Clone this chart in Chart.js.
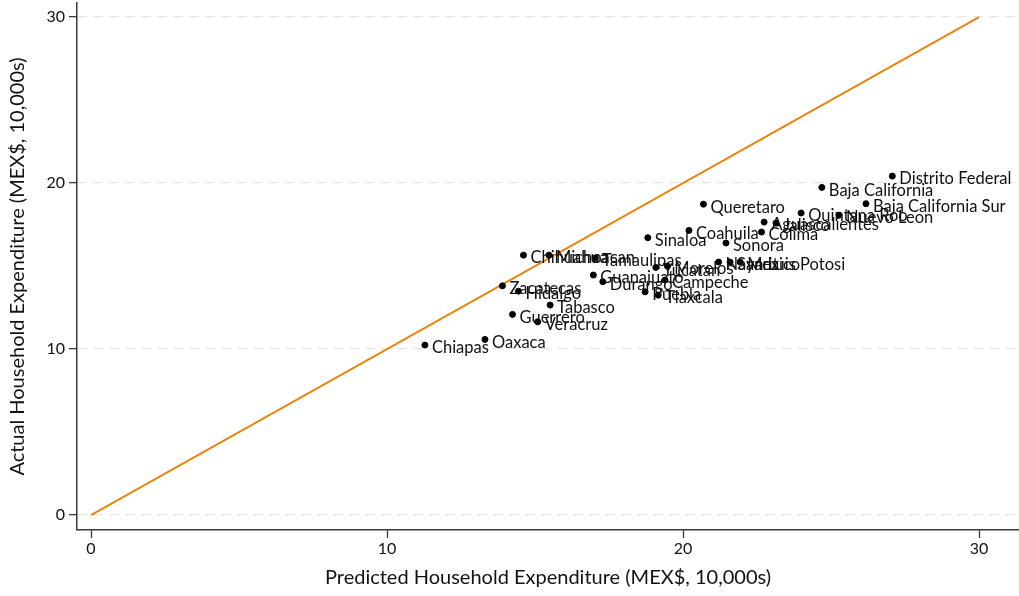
<!DOCTYPE html>
<html>
<head>
<meta charset="utf-8">
<script src="https://cdn.jsdelivr.net/npm/chart.js@4/dist/chart.umd.min.js"></script>
<style>
  html, body { margin: 0; padding: 0; background: #ffffff; }
  #wrap { width: 1019px; height: 596px; }
</style>
</head>
<body>
<div id="wrap"><canvas id="c" width="1019" height="596"></canvas></div>
<script>
// Mexican states: predicted vs. actual household expenditure (MEX$, 10,000s)
const states = [
  'Aguascalientes', 'Baja California', 'Baja California Sur', 'Campeche', 'Coahuila',
  'Colima', 'Chiapas', 'Chihuahua', 'Distrito Federal', 'Durango',
  'Guanajuato', 'Guerrero', 'Hidalgo', 'Jalisco', 'Mexico',
  'Michoacan', 'Morelos', 'Nayarit', 'Nuevo Leon', 'Oaxaca',
  'Puebla', 'Queretaro', 'Quintana Roo', 'San Luis Potosi', 'Sinaloa',
  'Sonora', 'Tabasco', 'Tamaulipas', 'Tlaxcala', 'Veracruz',
  'Yucatan', 'Zacatecas'
];
const predicted = [
  22.74, 24.69, 26.18, 19.39, 20.20,
  22.65, 11.28, 14.61, 27.07, 17.29,
  16.97, 14.24, 14.44, 23.14, 21.93,
  15.47, 19.47, 21.20, 25.27, 13.31,
  18.72, 20.69, 23.99, 21.59, 18.81,
  21.45, 15.51, 17.03, 19.16, 15.09,
  19.08, 13.90
];
const actual = [
  17.65, 19.74, 18.76, 14.16, 17.15,
  17.05, 10.24, 15.66, 20.42, 14.06,
  14.46, 12.09, 13.49, 17.59, 15.24,
  15.66, 15.00, 15.24, 18.07, 10.58,
  13.45, 18.73, 18.20, 15.24, 16.71,
  16.39, 12.65, 15.48, 13.25, 11.64,
  14.92, 13.81
];
// 45-degree reference line endpoints
const lineX = [0, 30];
const lineY = [0, 30];
const tickValues = [0, 10, 20, 30];

const FONT = 'Lato, "Open Sans", sans-serif';

const points = predicted.map((x, i) => ({ x: x, y: actual[i] }));
const diag = lineX.map((x, i) => ({ x: x, y: lineY[i] }));

// Writes each state's name to the right of its marker
const stateLabels = {
  id: 'stateLabels',
  afterDatasetsDraw(chart) {
    const meta = chart.getDatasetMeta(0);
    const ctx = chart.ctx;
    ctx.save();
    ctx.font = '16.5px ' + FONT;
    ctx.fillStyle = '#111111';
    ctx.textAlign = 'left';
    ctx.textBaseline = 'middle';
    meta.data.forEach((pt, i) => {
      ctx.fillText(states[i], pt.x + 7, pt.y + 3);
    });
    ctx.restore();
  }
};

const fixedTicks = (scale) => {
  scale.ticks = tickValues.map(v => ({ value: v }));
};

// keep the plot area flush with the fixed axis sizes
const noEdgePadding = (scale) => {
  scale.paddingTop = 0;
  scale.paddingBottom = 0;
  scale.paddingLeft = 0;
  scale.paddingRight = 0;
};

new Chart(document.getElementById('c'), {
  type: 'scatter',
  data: {
    datasets: [
      {
        label: 'States',
        data: points,
        backgroundColor: '#000000',
        borderColor: '#000000',
        pointRadius: 3,
        pointHoverRadius: 3,
        order: 1
      },
      {
        label: '45-degree line',
        type: 'line',
        data: diag,
        borderColor: '#e8850d',
        borderWidth: 2,
        pointRadius: 0,
        fill: false,
        order: 2
      }
    ]
  },
  options: {
    responsive: false,
    animation: false,
    layout: { autoPadding: false, padding: { top: 3, right: 0, left: 0, bottom: 0 } },
    plugins: {
      legend: { display: false },
      tooltip: { enabled: false }
    },
    scales: {
      x: {
        type: 'linear',
        min: -0.473,
        max: 31.35,
        afterBuildTicks: fixedTicks,
        afterFit(scale) { scale.height = 66; noEdgePadding(scale); },
        grid: {
          drawOnChartArea: false,
          drawTicks: true,
          tickLength: 8,
          tickColor: '#3a3a3a',
          tickWidth: 1.3
        },
        border: { display: true, color: '#3a3a3a', width: 1.5 },
        ticks: {
          color: '#111111',
          font: { family: FONT, size: 16 },
          padding: 1,
          maxRotation: 0
        },
        title: {
          display: true,
          text: 'Predicted Household Expenditure (MEX$, 10,000s)',
          color: '#111111',
          font: { family: FONT, size: 20 },
          padding: { top: 0, bottom: 6 }
        }
      },
      y: {
        type: 'linear',
        min: -0.9,
        max: 30.85,
        afterBuildTicks: fixedTicks,
        afterFit(scale) { scale.width = 77; noEdgePadding(scale); },
        grid: {
          drawOnChartArea: true,
          drawTicks: true,
          color: '#e4e4e4',
          lineWidth: 1.3,
          tickLength: 8,
          tickColor: '#3a3a3a',
          tickWidth: 1.3
        },
        border: { display: true, color: '#3a3a3a', width: 1.5, dash: [9, 7] },
        ticks: {
          color: '#111111',
          font: { family: FONT, size: 16 },
          padding: 4
        },
        title: {
          display: true,
          text: 'Actual Household Expenditure (MEX$, 10,000s)',
          color: '#111111',
          font: { family: FONT, size: 20 },
          padding: { top: 6, bottom: 0 }
        }
      }
    }
  },
  plugins: [stateLabels]
});
</script>
</body>
</html>
